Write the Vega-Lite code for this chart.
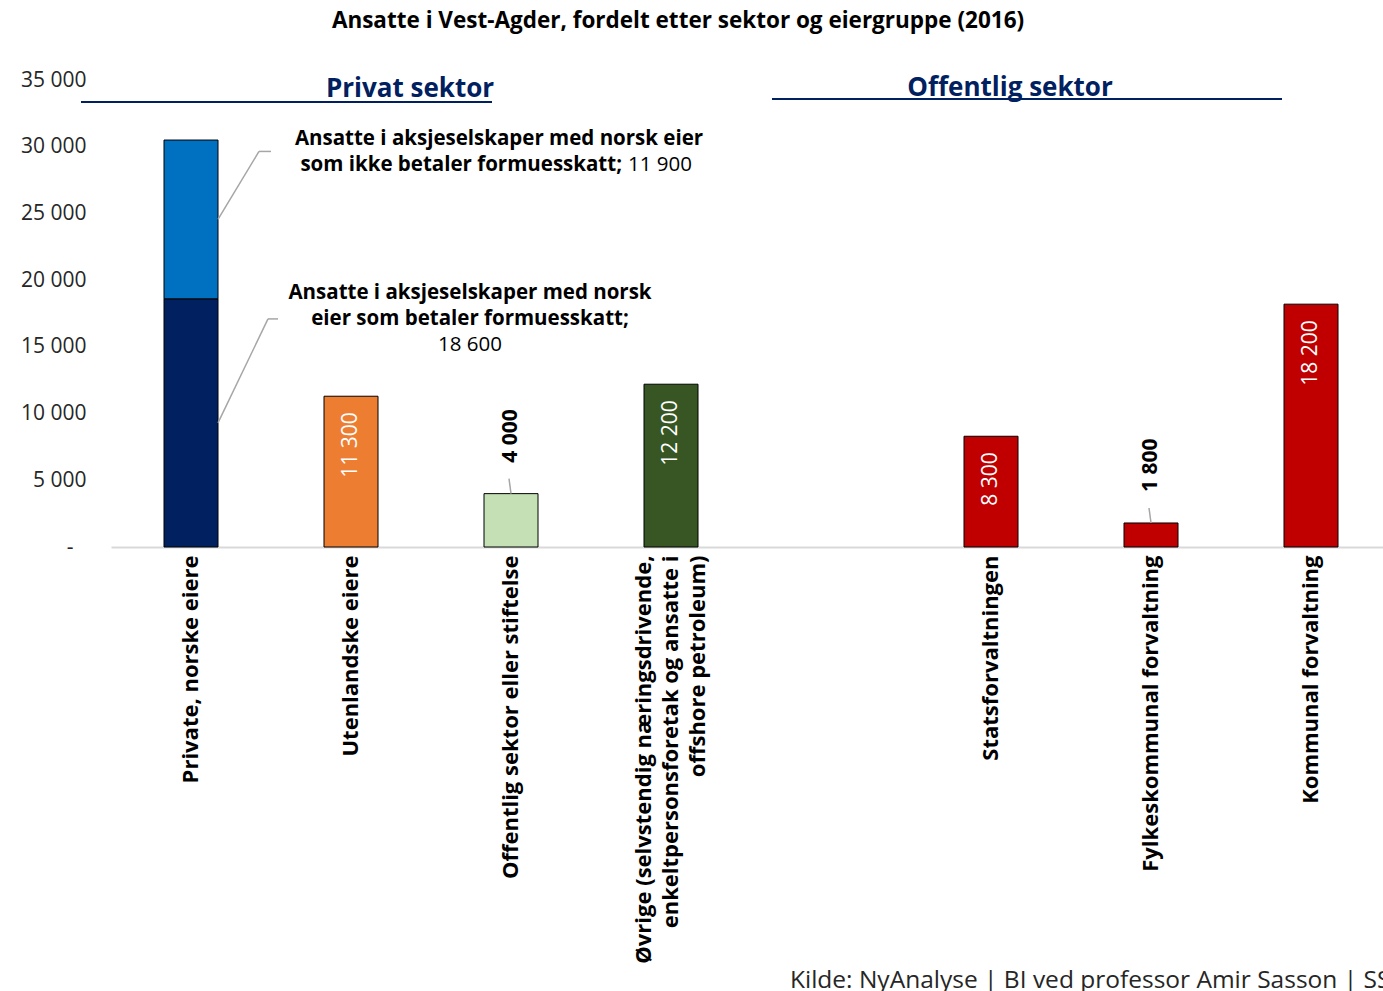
{
  "$schema": "https://vega.github.io/schema/vega-lite/v6.json",
  "autosize": {"type": "none"},
  "padding": {"left": 111, "top": 80, "right": 0, "bottom": 444},
  "width": 1280,
  "height": 467,
  "title": {"text": "Ansatte i Vest-Agder, fordelt etter sektor og eiergruppe (2016)", "fontSize": 22.5, "fontWeight": "bold", "color": "#000000", "anchor": "middle", "frame": "group", "dx": -73, "offset": 37},
  "config": {
    "font": "Open Sans",
    "view": {"stroke": null},
    "axisY": {"grid": false, "domain": false, "ticks": false, "labelFontSize": 21, "labelColor": "#262626", "title": null},
    "axisX": {"grid": false, "ticks": false, "domainColor": "#D9D9D9", "domainWidth": 2, "labelAngle": 270, "labelAlign": "right", "labelBaseline": "middle", "labelPadding": 8, "labelFontSize": 22, "labelFontWeight": "bold", "labelColor": "#000000", "labelLimit": 1000, "labelLineHeight": 27, "labelOverlap": false, "labelBound": false, "title": null}
  },
  "data": {"values": [
    {"category": "Private, norske eiere", "segment": "Ansatte i aksjeselskaper med norsk eier som betaler formuesskatt", "value": 18600},
    {"category": "Private, norske eiere", "segment": "Ansatte i aksjeselskaper med norsk eier som ikke betaler formuesskatt", "value": 11900},
    {"category": "Utenlandske eiere", "segment": "Utenlandske eiere", "value": 11300},
    {"category": "Offentlig sektor eller stiftelse", "segment": "Offentlig sektor eller stiftelse", "value": 4000},
    {"category": "Øvrige (selvstendig næringsdrivende, enkeltpersonsforetak og ansatte i offshore petroleum)", "segment": "Øvrige", "value": 12200},
    {"category": "Statsforvaltningen", "segment": "Offentlig forvaltning", "value": 8300},
    {"category": "Fylkeskommunal forvaltning", "segment": "Offentlig forvaltning", "value": 1800},
    {"category": "Kommunal forvaltning", "segment": "Offentlig forvaltning", "value": 18200}
  ]},
  "transform": [
    {"stack": "value", "groupby": ["category"], "sort": [{"field": "segment", "order": "ascending"}], "as": ["v0", "v1"]},
    {"calculate": "(datum.v0 + datum.v1) / 2", "as": "mid"},
    {"calculate": "replace(format(datum.value, ','), ',', ' ')", "as": "label"}
  ],
  "encoding": {
    "x": {
      "field": "category", "type": "nominal",
      "scale": {"domain": ["Private, norske eiere", "Utenlandske eiere", "Offentlig sektor eller stiftelse", "Øvrige (selvstendig næringsdrivende, enkeltpersonsforetak og ansatte i offshore petroleum)", " ", "Statsforvaltningen", "Fylkeskommunal forvaltning", "Kommunal forvaltning"], "paddingInner": 0.6625, "paddingOuter": 0.33125},
      "axis": {
        "labelExpr": "datum.value == 'Øvrige (selvstendig næringsdrivende, enkeltpersonsforetak og ansatte i offshore petroleum)' ? ['Øvrige (selvstendig næringsdrivende,', 'enkeltpersonsforetak og ansatte i', 'offshore petroleum)'] : datum.value",
        "labelOffset": {"condition": {"test": "indexof(datum.value, 'Øvrige') == 0", "value": -27}, "value": 0}
      }
    }
  },
  "layer": [
    {
      "mark": {"type": "bar", "stroke": "#000000", "strokeWidth": 1},
      "encoding": {
        "y": {"field": "v1", "type": "quantitative", "scale": {"domain": [0, 35000], "nice": false},
              "axis": {"values": [0, 5000, 10000, 15000, 20000, 25000, 30000, 35000],
                       "labelExpr": "datum.value == 0 ? '-' : replace(format(datum.value, ','), ',', ' ')",
                       "labelPadding": {"condition": {"test": "datum.value == 0", "value": 38}, "value": 25}}},
        "y2": {"field": "v0"},
        "color": {"field": "segment", "type": "nominal", "legend": null,
                  "scale": {"domain": ["Ansatte i aksjeselskaper med norsk eier som betaler formuesskatt", "Ansatte i aksjeselskaper med norsk eier som ikke betaler formuesskatt", "Utenlandske eiere", "Offentlig sektor eller stiftelse", "Øvrige", "Offentlig forvaltning"],
                            "range": ["#002060", "#0070C0", "#ED7D31", "#C5E0B4", "#375623", "#C00000"]}}
      }
    },
    {
      "transform": [{"filter": "datum.category != 'Private, norske eiere' && datum.value >= 5000"}],
      "mark": {"type": "text", "angle": 270, "align": "right", "baseline": "middle", "dx": -16, "fontSize": 21, "color": "#FFFFFF"},
      "encoding": {"y": {"field": "v1", "type": "quantitative"}, "text": {"field": "label"}}
    },
    {
      "transform": [{"filter": "datum.value < 5000"}],
      "mark": {"type": "text", "angle": 270, "align": "left", "baseline": "middle", "dx": 31, "fontSize": 21, "fontWeight": "bold", "color": "#000000"},
      "encoding": {"y": {"field": "v1", "type": "quantitative"}, "text": {"field": "label"}}
    },
    {
      "transform": [{"filter": "datum.value < 5000"}],
      "mark": {"type": "rule", "color": "#A6A6A6", "strokeWidth": 1.5, "y2Offset": -15, "x2Offset": -2},
      "encoding": {"y": {"field": "v1", "type": "quantitative"}, "y2": {"field": "v1"}, "x2": {"field": "category"}}
    },
    {
      "transform": [{"filter": "datum.segment == 'Ansatte i aksjeselskaper med norsk eier som ikke betaler formuesskatt'"}],
      "layer": [
        {"mark": {"type": "rule", "color": "#A6A6A6", "strokeWidth": 1.5, "xOffset": 27, "x2Offset": 68, "y2Offset": -68},
         "encoding": {"y": {"field": "mid", "type": "quantitative"}, "y2": {"field": "mid"}, "x2": {"field": "category"}}},
        {"mark": {"type": "rule", "color": "#A6A6A6", "strokeWidth": 1.5, "xOffset": 68, "x2Offset": 80, "yOffset": -68, "y2Offset": -68},
         "encoding": {"y": {"field": "mid", "type": "quantitative"}, "y2": {"field": "mid"}, "x2": {"field": "category"}}},
        {"mark": {"type": "text", "text": "Ansatte i aksjeselskaper med norsk eier", "align": "center", "baseline": "middle", "dx": 308, "dy": -80, "fontSize": 20.5, "fontWeight": "bold", "color": "#000000"},
         "encoding": {"y": {"field": "mid", "type": "quantitative"}}},
        {"mark": {"type": "text", "text": "som ikke betaler formuesskatt;", "align": "right", "baseline": "middle", "dx": 431, "dy": -54, "fontSize": 20.5, "fontWeight": "bold", "color": "#000000"},
         "encoding": {"y": {"field": "mid", "type": "quantitative"}}},
        {"mark": {"type": "text", "align": "left", "baseline": "middle", "dx": 437, "dy": -54, "fontSize": 20.5, "color": "#000000"},
         "encoding": {"y": {"field": "mid", "type": "quantitative"}, "text": {"field": "label"}}}
      ]
    },
    {
      "transform": [{"filter": "datum.segment == 'Ansatte i aksjeselskaper med norsk eier som betaler formuesskatt'"}],
      "layer": [
        {"mark": {"type": "rule", "color": "#A6A6A6", "strokeWidth": 1.5, "xOffset": 27, "x2Offset": 77, "y2Offset": -104},
         "encoding": {"y": {"field": "mid", "type": "quantitative"}, "y2": {"field": "mid"}, "x2": {"field": "category"}}},
        {"mark": {"type": "rule", "color": "#A6A6A6", "strokeWidth": 1.5, "xOffset": 77, "x2Offset": 87, "yOffset": -104, "y2Offset": -104},
         "encoding": {"y": {"field": "mid", "type": "quantitative"}, "y2": {"field": "mid"}, "x2": {"field": "category"}}},
        {"mark": {"type": "text", "text": ["Ansatte i aksjeselskaper med norsk", "eier som betaler formuesskatt;"], "lineHeight": 26, "align": "center", "baseline": "middle", "dx": 279, "dy": -130, "fontSize": 20.5, "fontWeight": "bold", "color": "#000000"},
         "encoding": {"y": {"field": "mid", "type": "quantitative"}}},
        {"mark": {"type": "text", "align": "center", "baseline": "middle", "dx": 279, "dy": -78, "fontSize": 20.5, "color": "#000000"},
         "encoding": {"y": {"field": "mid", "type": "quantitative"}, "text": {"field": "label"}}}
      ]
    },
    {
      "transform": [{"filter": "datum.category == 'Utenlandske eiere'"}],
      "layer": [
        {"mark": {"type": "text", "text": "Privat sektor", "align": "center", "baseline": "alphabetic", "dx": -101, "dy": 17, "fontSize": 26, "fontWeight": "bold", "color": "#002060"},
         "encoding": {"x": {"datum": "Offentlig sektor eller stiftelse", "type": "nominal"}, "y": {"datum": 35000, "type": "quantitative"}}},
        {"mark": {"type": "rule", "color": "#002060", "strokeWidth": 2, "xOffset": -110, "x2Offset": -19, "yOffset": 22, "y2Offset": 22},
         "encoding": {"x": {"datum": "Private, norske eiere", "type": "nominal"}, "x2": {"datum": "Offentlig sektor eller stiftelse"}, "y": {"datum": 35000, "type": "quantitative"}, "y2": {"datum": 35000}}},
        {"mark": {"type": "text", "text": "Offentlig sektor", "align": "center", "baseline": "alphabetic", "dx": 19, "dy": 16, "fontSize": 26, "fontWeight": "bold", "color": "#002060"},
         "encoding": {"x": {"datum": "Statsforvaltningen", "type": "nominal"}, "y": {"datum": 35000, "type": "quantitative"}}},
        {"mark": {"type": "rule", "color": "#002060", "strokeWidth": 2, "xOffset": -219, "x2Offset": -29, "yOffset": 19, "y2Offset": 19},
         "encoding": {"x": {"datum": "Statsforvaltningen", "type": "nominal"}, "x2": {"datum": "Kommunal forvaltning"}, "y": {"datum": 35000, "type": "quantitative"}, "y2": {"datum": 35000}}},
        {"mark": {"type": "text", "text": "Kilde: NyAnalyse  |  BI ved professor Amir Sasson  |  SSB", "align": "left", "baseline": "alphabetic", "dx": -201, "dy": 441, "fontSize": 24.5, "color": "#262626"},
         "encoding": {"x": {"datum": "Statsforvaltningen", "type": "nominal"}, "y": {"datum": 0, "type": "quantitative"}}}
      ]
    }
  ]
}
